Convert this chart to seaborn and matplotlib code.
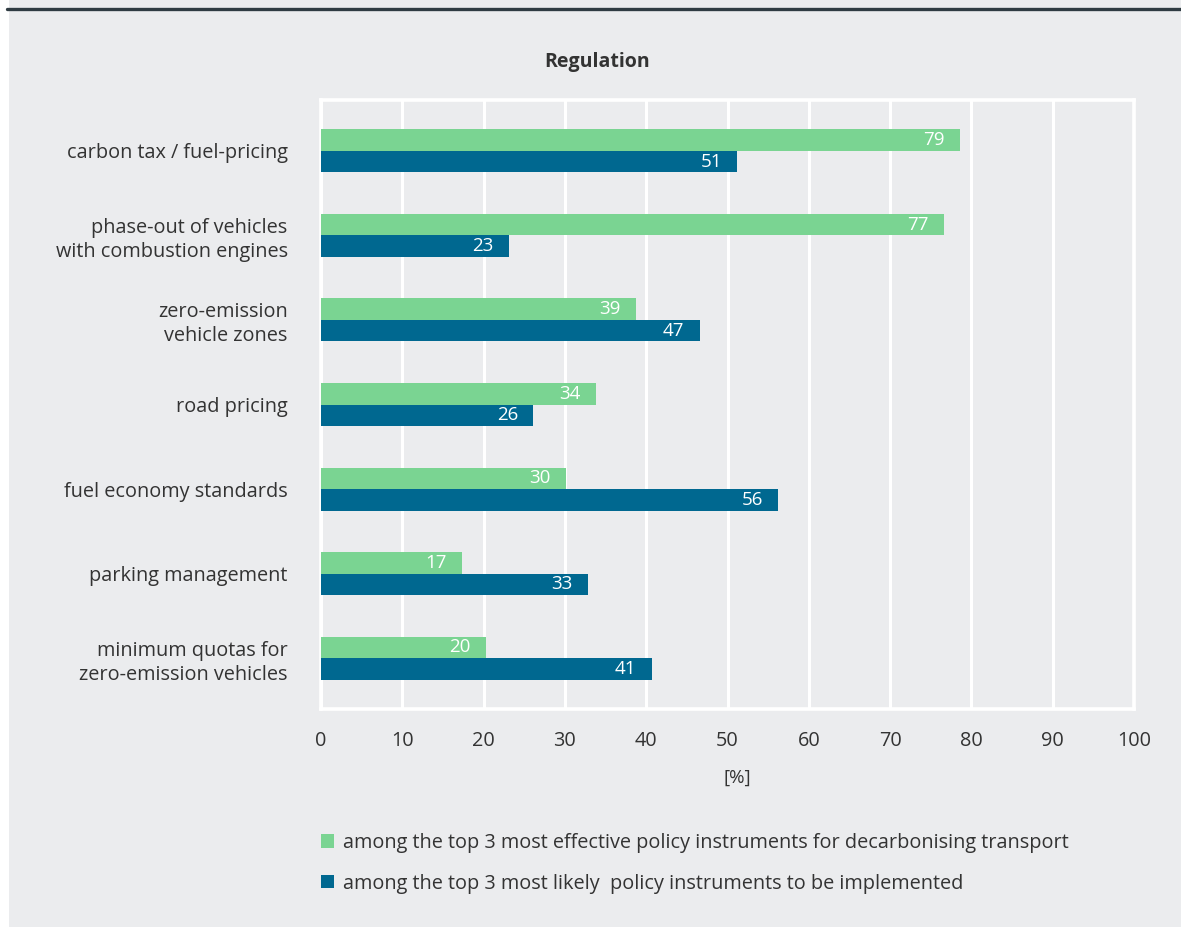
import matplotlib
matplotlib.use("Agg")
import matplotlib.pyplot as plt
import matplotlib.patches as mpatches
import pandas as pd
import seaborn as sns

# Data
categories = [
    "carbon tax / fuel-pricing",
    "phase-out of vehicles\nwith combustion engines",
    "zero-emission\nvehicle zones",
    "road pricing",
    "fuel economy standards",
    "parking management",
    "minimum quotas for\nzero-emission vehicles",
]
effective = [78.6, 76.6, 38.7, 33.8, 30.1, 17.4, 20.3]
likely = [51.2, 23.1, 46.6, 26.1, 56.2, 32.8, 40.7]

series_names = [
    "among the top 3 most effective policy instruments for decarbonising transport",
    "among the top 3 most likely  policy instruments to be implemented",
]
colors = ["#7AD492", "#006890"]
bg = "#EBECEE"
text_col = "#333333"

df = pd.DataFrame({
    "category": categories * 2,
    "value": effective + likely,
    "series": [series_names[0]] * len(categories) + [series_names[1]] * len(categories),
})

sns.set_style("white")
plt.rcParams["font.family"] = ["Open Sans", "DejaVu Sans"]

fig = plt.figure(figsize=(11.81, 9.27), dpi=100, facecolor="white")

# grey panel and dark top rule
fig.patches.append(mpatches.Rectangle((9 / 1181, 0), 1, 1, transform=fig.transFigure,
                                      facecolor=bg, edgecolor="none", zorder=-10))
fig.add_artist(plt.Line2D([7 / 1181, 1], [1 - 8.5 / 927, 1 - 8.5 / 927],
                          transform=fig.transFigure, color="#2F3B42", lw=2.4))

ax = fig.add_axes([321 / 1181, 1 - 709 / 927, (1134 - 321) / 1181, (709 - 100) / 927])
ax.set_facecolor(bg)

sns.barplot(data=df, y="category", x="value", hue="series", orient="h",
            palette=colors, width=0.51, dodge=True, saturation=1, ax=ax,
            legend=False, linewidth=0, edgecolor="none", zorder=3)

# value labels inside the bar ends, right aligned
for cont in ax.containers:
    for b in cont:
        w = b.get_width()
        yc = b.get_y() + b.get_height() / 2
        ax.annotate(f"{w:.0f}", xy=(w, yc), xytext=(-11, 0), textcoords="offset points",
                    ha="right", va="center", color="white", fontsize=13.5, zorder=5)

ax.set_xlim(0, 100)
ax.set_ylim(6.6, -0.6)
ax.set_xticks(range(0, 101, 10))
ax.grid(axis="x", color="white", lw=2.2, zorder=0)
ax.grid(axis="y", visible=False)
for s in ax.spines.values():
    s.set_color("white")
    s.set_linewidth(2.6)
    s.set_visible(True)

ax.tick_params(axis="y", length=0, pad=24, labelsize=14.3, labelcolor=text_col)
ax.tick_params(axis="x", length=0, pad=16, labelsize=14.3, labelcolor=text_col)
for lbl in ax.get_yticklabels():
    lbl.set_multialignment("right")
    lbl.set_linespacing(1.25)
ax.set_ylabel("")
ax.set_xlabel("[%]", fontsize=13.5, color=text_col, labelpad=13)
ax.xaxis.set_label_coords((737 - 321) / (1134 - 321), -0.098)

fig.text(597 / 1181, 1 - 62 / 927, "Regulation", ha="center", va="center",
         fontsize=14, fontweight="bold", color=text_col)

# legend
handles = [mpatches.Patch(facecolor=c, edgecolor="none") for c in colors]
fig.legend(handles, series_names, loc="upper left",
           bbox_to_anchor=(303 / 1181, 1 - 815 / 927), frameon=False,
           fontsize=14.3, labelcolor=text_col, handlelength=0.65, handleheight=0.65,
           handletextpad=0.45, labelspacing=1.05)

fig.savefig("out.png", dpi=100, facecolor=fig.get_facecolor())
